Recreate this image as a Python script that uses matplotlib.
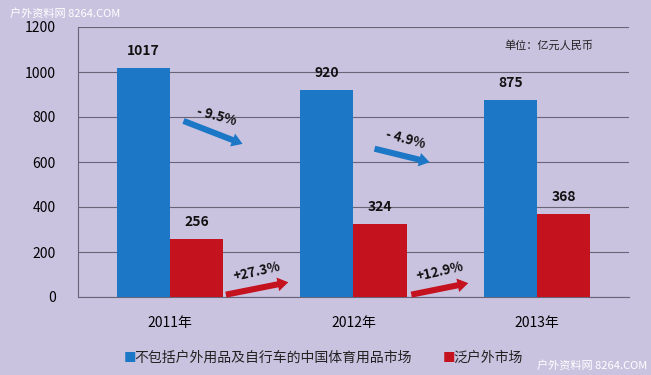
import matplotlib.pyplot as plt
import numpy as np

plt.rcParams['font.family'] = ['Noto Sans CJK SC', 'DejaVu Sans']

years = ["2011年", "2012年", "2013年"]
sports_market = [1017, 920, 875]
outdoor_market = [256, 324, 368]
sports_growth = ["- 9.5%", "- 4.9%"]
outdoor_growth = ["+27.3%", "+12.9%"]
yticks = [0, 200, 400, 600, 800, 1000, 1200]

blue = "#1c78c6"
red = "#c4121e"
bg = "#cac3e0"

fig = plt.figure(figsize=(6.51, 3.75), dpi=100)
fig.patch.set_facecolor(bg)
ax = fig.add_axes([0.12, 0.208, 0.846, 0.72])
ax.set_facecolor(bg)

x = np.arange(len(years))
w = 0.29
ax.bar(x - w / 2, sports_market, width=w, color=blue, zorder=3)
ax.bar(x + w / 2, outdoor_market, width=w, color=red, zorder=3)

for xi, v in zip(x, sports_market):
    ax.text(xi - w / 2, v + 45, str(v), ha="center", va="bottom",
            fontsize=10, fontweight="bold", color="#111111")
for xi, v in zip(x, outdoor_market):
    ax.text(xi + w / 2, v + 45, str(v), ha="center", va="bottom",
            fontsize=10, fontweight="bold", color="#111111")

arrow_style = "simple,head_width=0.9,head_length=0.7,tail_width=0.4"

# growth arrows between years (start/end offsets relative to the bars)
blue_arrows = [((0.06, 787), (0.41, 676)), ((1.10, 662), (1.43, 596))]
red_arrows = [((0.29, 8), (0.66, 68)), ((1.30, 8), (1.64, 64))]
for (p0, p1), lab in zip(blue_arrows, sports_growth):
    ax.annotate("", xy=p1, xytext=p0,
                arrowprops=dict(arrowstyle=arrow_style, mutation_scale=11,
                                color=blue, lw=0), zorder=4)
    ax.text((p0[0] + p1[0]) / 2 + 0.02, (p0[1] + p1[1]) / 2 + 20, lab,
            ha="center", va="bottom", fontsize=9.5, fontweight="bold",
            rotation=-15, color="#111111", zorder=5)
for (p0, p1), lab in zip(red_arrows, outdoor_growth):
    ax.annotate("", xy=p1, xytext=p0,
                arrowprops=dict(arrowstyle=arrow_style, mutation_scale=11,
                                color=red, lw=0), zorder=4)
    ax.text((p0[0] + p1[0]) / 2, (p0[1] + p1[1]) / 2 + 22, lab,
            ha="center", va="bottom", fontsize=9.5, fontweight="bold",
            rotation=13, color="#111111", zorder=5)

ax.set_xlim(-0.5, 2.5)
ax.set_ylim(0, 1200)
ax.set_yticks(yticks)
ax.set_xticks(x)
ax.set_xticklabels(years, fontsize=10)
ax.tick_params(axis="y", labelsize=10, length=0, pad=16)
ax.tick_params(axis="x", length=0, pad=14)
ax.grid(axis="y", color="#6a6478", lw=0.8, zorder=1)
for s in ["top", "right"]:
    ax.spines[s].set_visible(False)
ax.spines["left"].set_color("#6a6478")
ax.spines["bottom"].set_color("#6a6478")

ax.text(0.935, 0.93, "单位：亿元人民币", transform=ax.transAxes, ha="right",
        va="center", fontsize=8, color="#222222")

# legend
fig.text(0.19, 0.045, "■", color=blue, fontsize=9, va="center")
fig.text(0.207, 0.045, "不包括户外用品及自行车的中国体育用品市场", fontsize=10, va="center", color="#222222")
fig.text(0.68, 0.045, "■", color=red, fontsize=9, va="center")
fig.text(0.697, 0.045, "泛户外市场", fontsize=10, va="center", color="#222222")

# watermarks
fig.text(0.015, 0.965, "户外资料网 8264.COM", fontsize=8, color="white", va="center")
fig.text(0.825, 0.025, "户外资料网 8264.COM", fontsize=8, color="white", va="center")

fig.savefig("out.png", dpi=100, facecolor=bg)
